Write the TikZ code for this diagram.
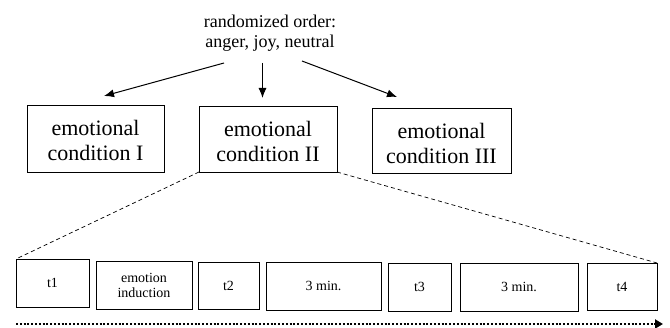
\documentclass[tikz,border=0pt]{standalone}
\usepackage{fontspec}
\setmainfont{Liberation Serif}
\usetikzlibrary{arrows.meta}
\tikzset{
  bigbox/.style={draw, line width=0.8pt, outer sep=0pt, inner sep=0pt},
  bigtext/.style={align=center, inner sep=0pt, font=\fontsize{22}{25}\selectfont},
  smallbox/.style={draw, line width=0.8pt, outer sep=0pt, inner sep=0pt, align=center,
    font=\fontsize{14}{15}\selectfont},
  arr/.style={line width=1pt, -{Latex[length=10pt,width=8pt]}},
  zoomline/.style={line width=0.7pt, dash pattern=on 4pt off 3pt},
}
\begin{document}
\begin{tikzpicture}[x=1pt,y=-1pt]
\useasboundingbox (0,0) rectangle (670,328);
\node[align=center, inner sep=0pt, font=\fontsize{18}{19.5}\selectfont] (top) at (270,33) {randomized order:\\anger, joy, neutral};
\node[bigbox, minimum width=137pt, minimum height=67pt] (c1) at (95.5,138.5) {};
\node[bigbox, minimum width=138pt, minimum height=66pt] (c2) at (268,139) {};
\node[bigbox, minimum width=139pt, minimum height=65pt] (c3) at (441.5,141) {};
\node[bigtext] (l1) at ([yshift=-2pt]c1.center) {emotional\\condition I};
\node[bigtext] (l2) at ([yshift=-2pt]c2.center) {emotional\\condition II};
\node[bigtext] (l3) at ([yshift=-2pt]c3.center) {emotional\\condition III};
\coordinate (s1) at (224,63);
\coordinate (e1) at (104,96);
\coordinate (s2) at (262.5,63);
\coordinate (e2) at (262.5,98);
\coordinate (s3) at (302,61);
\coordinate (e3) at (397,97);
\draw[arr] (s1) -- (e1);
\draw[arr] (s2) -- (e2);
\draw[arr] (s3) -- (e3);
\node[smallbox, minimum width=73pt, minimum height=48pt] (t1) at (52.5,283) {t1};
\node[smallbox, minimum width=96pt, minimum height=48pt] (ei) at (144,285) {emotion\\induction};
\node[smallbox, minimum width=61pt, minimum height=47pt] (t2) at (228.5,285.5) {t2};
\node[smallbox, minimum width=115pt, minimum height=48pt] (m1) at (323.5,286) {3 min.};
\node[smallbox, minimum width=63pt, minimum height=48pt] (t3) at (419.5,287) {t3};
\node[smallbox, minimum width=118pt, minimum height=48pt] (m2) at (519,287) {3 min.};
\node[smallbox, minimum width=70pt, minimum height=47pt] (t4) at (622,286.5) {t4};
\draw[zoomline] (c2.south west) -- (t1.north west);
\draw[zoomline] (c2.south east) -- (t4.north east);
\coordinate (ts) at (16,324);
\coordinate (te) at (663,324);
\draw[line width=2.2pt, dash pattern=on 2pt off 1.8pt, -{Triangle[length=8pt,width=9pt]}] (ts) -- (te);
\end{tikzpicture}
\end{document}
